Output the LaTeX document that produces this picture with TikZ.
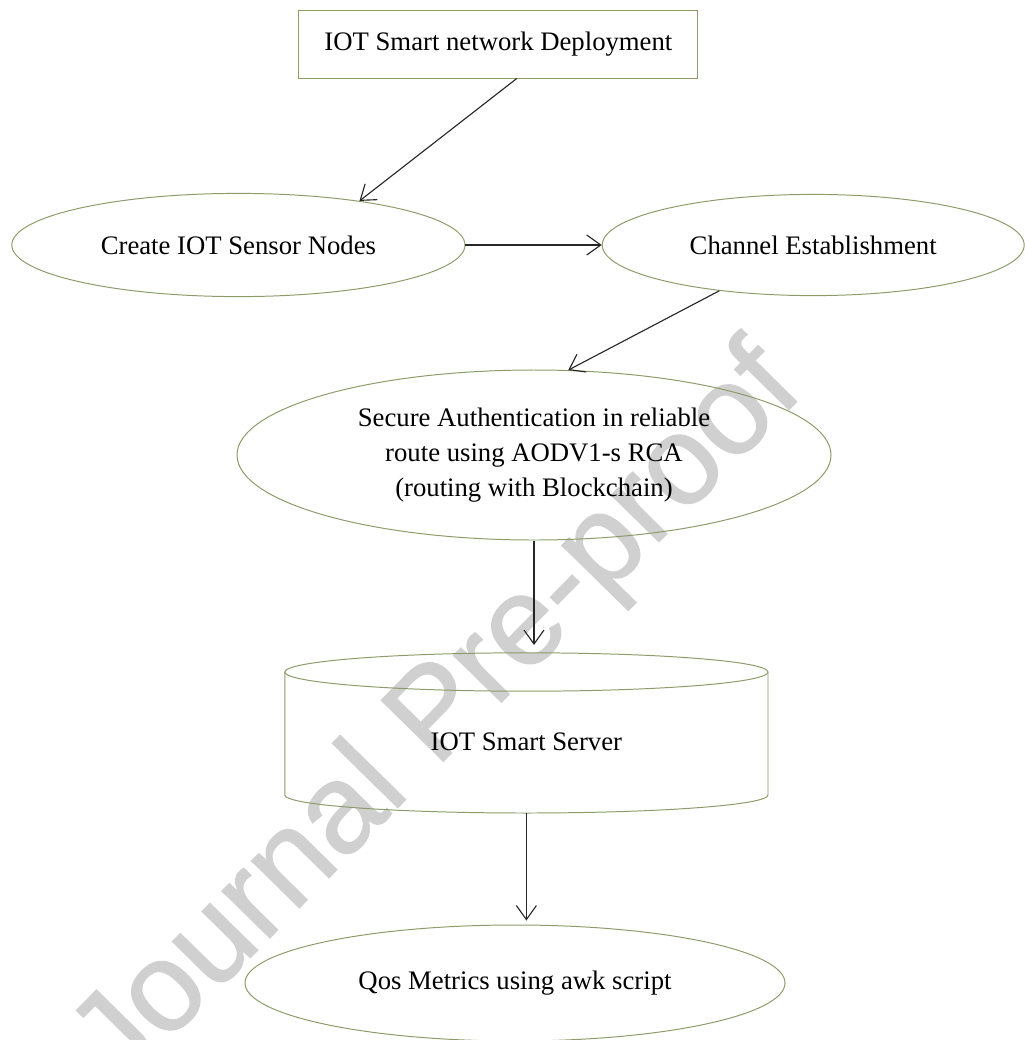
\documentclass[tikz,border=0pt]{standalone}
\usepackage{fontspec}
\setmainfont{Liberation Serif}
\newfontfamily\markfont[FakeBold=1]{Liberation Sans}
\usetikzlibrary{arrows.meta, calc, positioning, shapes.geometric}
\definecolor{outlinegreen}{RGB}{140,155,105}
\definecolor{markgray}{RGB}{208,208,208}

\begin{document}
\begin{tikzpicture}[
    stage/.style={draw=outlinegreen, line width=0.7pt, font=\fontsize{19}{25}\selectfont, align=center, inner sep=0pt},
    oval/.style={stage, ellipse},
    flow/.style={-{Straight Barb[length=3.5mm, width=5mm]}, line width=0.8pt, black!85}
]
    \useasboundingbox (0,0) rectangle (25.625,-26);

    % watermark, kept behind the chart
    \node[markgray, rotate=45.5, font=\markfont\fontsize{90}{90}\selectfont] (stamp) at (11.0,-17.95) {Journal Pre-proof};

    % stages
    \node[stage, rectangle, minimum width=9.975cm, minimum height=1.7cm] (deploy) at (12.46,-1.1) {IOT Smart network Deployment};
    \node[oval, minimum width=11.33cm, minimum height=2.58cm] (create) at (5.96,-6.125) {Create IOT Sensor Nodes};
    \node[oval, minimum width=10.55cm, minimum height=2.53cm] (channel) at (20.33,-6.125) {Channel Establishment};
    \node[oval, minimum width=14.85cm, minimum height=4.25cm] (secure) at (13.35,-11.375) {Secure Authentication in reliable\\ route using AODV1-s RCA\\ (routing with Blockchain)};
    \node[oval, minimum width=13.5cm, minimum height=2.9cm] (qos) at (12.875,-24.575) {Qos Metrics using awk script};

    % server drum
    \node[font=\fontsize{19}{25}\selectfont] (server) at (13.16,-18.55) {IOT Smart Server};
    \coordinate (drumtop) at (13.16,-16.325);
    \coordinate (drumbase) at (13.16,-20.33);
    \draw[outlinegreen, line width=0.7pt] (13.16,-16.8) ellipse (6.04 and 0.48);
    \draw[outlinegreen, line width=0.7pt] (7.12,-16.8) -- (7.12,-19.875)
        arc[start angle=180, end angle=360, x radius=6.04, y radius=0.45] -- (19.2,-16.8);

    % flow
    \draw[flow] (deploy.298) -- (create.20);
    \draw[flow] (create.east) -- (channel.west);
    \draw[flow] (channel.206) -- (secure.68);
    \draw[flow, shorten >=0.2cm] (secure.south) -- (secure.south |- drumtop);
    \draw[flow, shorten >=0.1cm] (drumbase) -- (drumbase |- qos.north);
\end{tikzpicture}
\end{document}
